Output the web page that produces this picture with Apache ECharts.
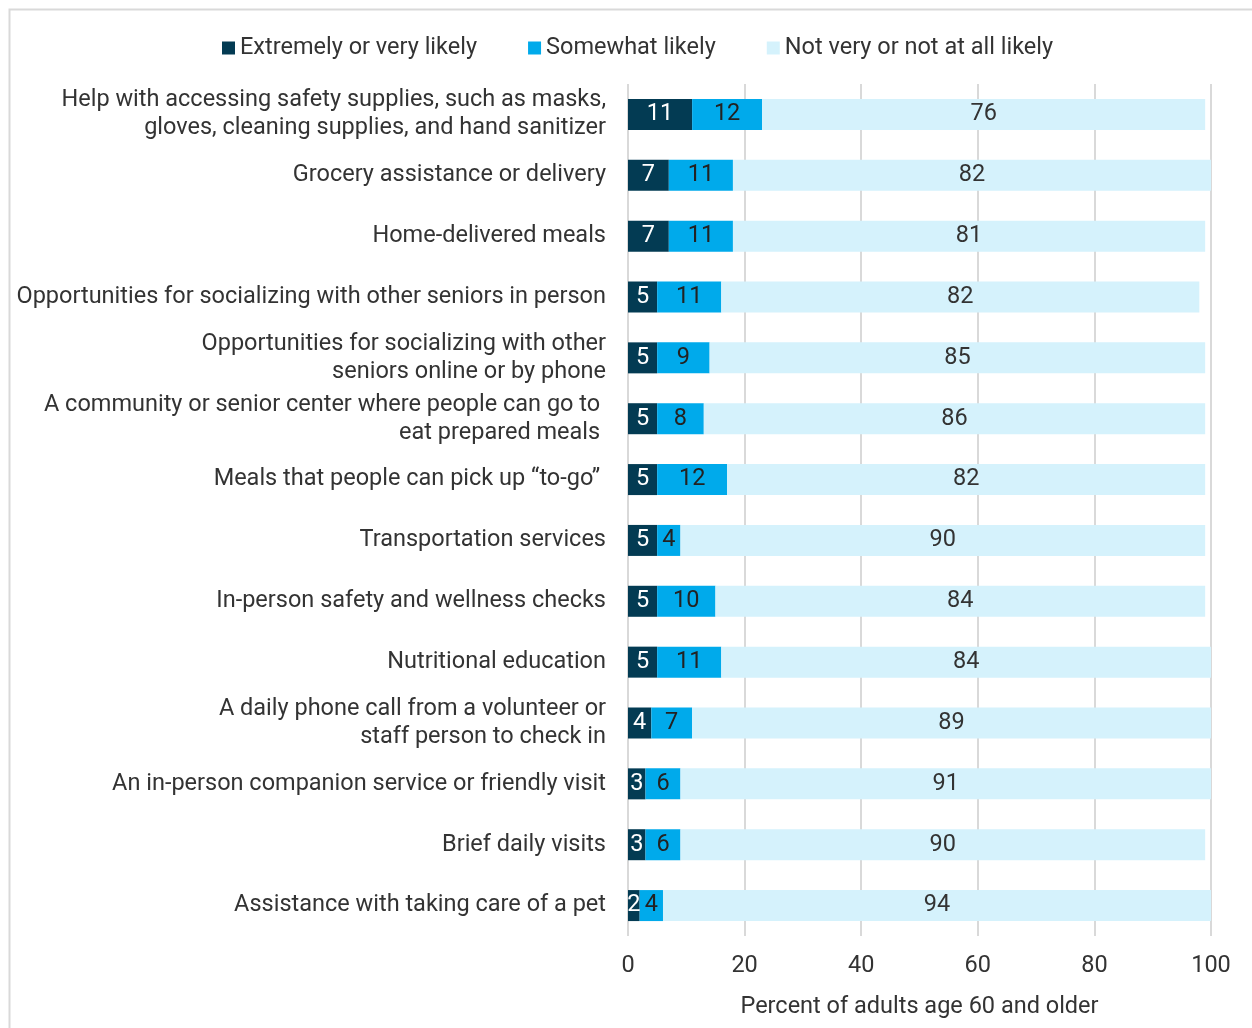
<!DOCTYPE html>
<html>
<head>
<meta charset="utf-8">
<script src="https://cdn.jsdelivr.net/npm/echarts@6/dist/echarts.min.js"></script>
<style>
  html, body { margin: 0; padding: 0; background: #fff; }
  #chart { width: 1252px; height: 1028px; }
</style>
</head>
<body>
<div id="chart"></div>
<script>
// Services, top to bottom
const categories = [
  'Help with accessing safety supplies, such as masks,\ngloves, cleaning supplies, and hand sanitizer',
  'Grocery assistance or delivery',
  'Home-delivered meals',
  'Opportunities for socializing with other seniors in person',
  'Opportunities for socializing with other\nseniors online or by phone',
  'A community or senior center where people can go to \neat prepared meals ',
  'Meals that people can pick up \u201cto-go\u201d ',
  'Transportation services',
  'In-person safety and wellness checks',
  'Nutritional education',
  'A daily phone call from a volunteer or\nstaff person to check in',
  'An in-person companion service or friendly visit',
  'Brief daily visits',
  'Assistance with taking care of a pet'
];
const seriesNames = ['Extremely or very likely', 'Somewhat likely', 'Not very or not at all likely'];
const extremelyLikely = [11, 7, 7, 5, 5, 5, 5, 5, 5, 5, 4, 3, 3, 2];
const somewhatLikely  = [12, 11, 11, 11, 9, 8, 12, 4, 10, 11, 7, 6, 6, 4];
const notLikely       = [76, 82, 81, 82, 85, 86, 82, 90, 84, 84, 89, 91, 90, 94];
const xTicks = [0, 20, 40, 60, 80, 100];
const axisTitle = 'Percent of adults age 60 and older';

const colors = ['#033b53', '#00aaeb', '#d5f2fc'];
const labelColors = ['#ffffff', '#222222', '#333333'];
const FONT = 'Roboto';
const FS = 23.5;
const TEXT = '#333333';

const chart = echarts.init(document.getElementById('chart'), null, { renderer: 'canvas' });

const seriesData = [extremelyLikely, somewhatLikely, notLikely];
const series = seriesData.map((vals, i) => ({
  name: seriesNames[i],
  type: 'bar',
  stack: 'total',
  data: vals,
  barWidth: 31,
  itemStyle: { color: colors[i] },
  label: {
    show: true,
    position: 'inside',
    color: labelColors[i],
    fontFamily: FONT,
    fontSize: FS,
    formatter: p => String(p.value)
  },
  emphasis: { disabled: true }
}));

chart.setOption({
  animation: false,
  textStyle: { fontFamily: FONT },
  graphic: [{
    type: 'rect',
    shape: { x: 9.5, y: 9.5, width: 1400, height: 1200 },
    style: { fill: 'none', stroke: '#d9d9d9', lineWidth: 2 },
    silent: true
  }],
  legend: {
    top: 36,
    left: 222,
    padding: 0,
    itemWidth: 13,
    itemHeight: 13,
    itemGap: 51,
    icon: 'rect',
    textStyle: { fontFamily: FONT, fontSize: FS, color: TEXT },
    data: seriesNames
  },
  grid: {
    left: 628, right: 41, top: 84, bottom: 92,
    containLabel: false,
    outerBoundsMode: 'none'
  },
  xAxis: {
    type: 'value',
    min: 0,
    max: 100,
    interval: 20,
    axisLine: { show: false },
    axisTick: { show: false },
    splitLine: { show: true, lineStyle: { color: '#d9d9d9', width: 2 } },
    axisLabel: {
      fontFamily: FONT, fontSize: FS, color: TEXT, margin: 18,
      formatter: v => (xTicks.includes(v) ? String(v) : '')
    },
    name: axisTitle,
    nameLocation: 'middle',
    nameGap: 59,
    nameTextStyle: { fontFamily: FONT, fontSize: FS, color: TEXT }
  },
  yAxis: {
    type: 'category',
    inverse: true,
    data: categories,
    axisLine: { show: false },
    axisTick: { show: false },
    axisLabel: {
      fontFamily: FONT, fontSize: FS, color: TEXT, margin: 22,
      lineHeight: 28, align: 'right'
    }
  },
  series
});
</script>
</body>
</html>
